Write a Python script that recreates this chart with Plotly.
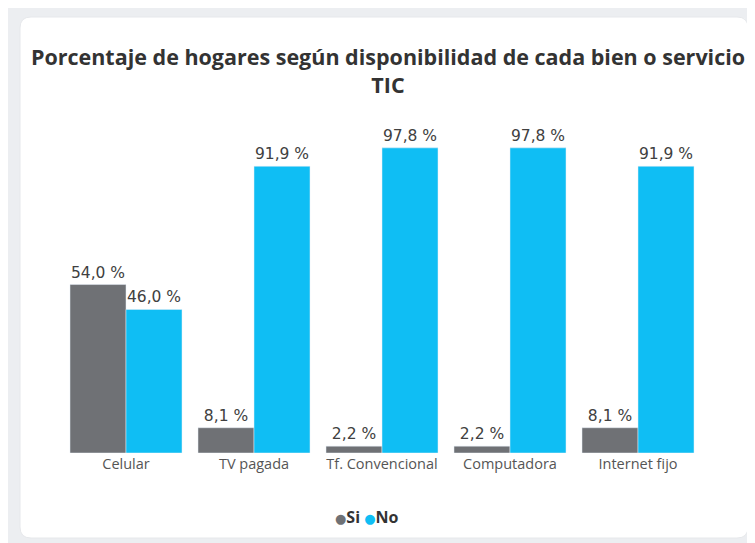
import plotly.graph_objects as go

categories = ["Celular", "TV pagada", "Tf. Convencional", "Computadora", "Internet fijo"]
si_values = [54.0, 8.1, 2.2, 2.2, 8.1]
no_values = [46.0, 91.9, 97.8, 97.8, 91.9]
series_names = ["Si", "No"]
colors = ["#6f7175", "#0fbef4"]

def fmt(v):
    return f"{v:.1f}".replace(".", ",") + " %"

fig = go.Figure()
for name, vals, col in zip(series_names, [si_values, no_values], colors):
    fig.add_trace(go.Bar(
        x=categories, y=vals, name=name, marker_color=col,
        text=[fmt(v) for v in vals], textposition="outside",
        textfont=dict(family="DejaVu Sans", size=15.5, color="#404040"),
        cliponaxis=False, showlegend=False,
    ))

W, H = 755, 543
OFF = 8  # page body margin
L, R, T, B = 62 - OFF, 702 - OFF, 141 - OFF, 453 - OFF
pw, ph = R - L, B - T
def px(x):
    return (x - OFF - L) / pw
def py(y):
    return (B - (y - OFF)) / ph

x0, x1, y0, y1 = px(20), px(748), py(538), py(17)
rx, ry = 11 / pw, 11 / ph
path = (f"M {x0+rx},{y0} L {x1-rx},{y0} Q {x1},{y0} {x1},{y0+ry} "
        f"L {x1},{y1-ry} Q {x1},{y1} {x1-rx},{y1} L {x0+rx},{y1} "
        f"Q {x0},{y1} {x0},{y1-ry} L {x0},{y0+ry} Q {x0},{y0} {x0+rx},{y0} Z")

dot = "<span style='font-family:DejaVu Sans;font-size:13px;color:{c}'>●</span>"
legend_text = (dot.format(c=colors[0]) + f"<b>{series_names[0]}</b> "
               + dot.format(c=colors[1]) + f"<b>{series_names[1]}</b>")

fig.update_layout(
    width=W, height=H,
    margin=dict(l=L, r=W - R, t=T, b=H - B),
    paper_bgcolor="#eceef1", plot_bgcolor="rgba(0,0,0,0)",
    barmode="group", bargap=0.125, bargroupgap=0,
    showlegend=False,
    title=dict(
        text="<b>Porcentaje de hogares según disponibilidad de cada bien o servicio<br>TIC</b>",
        x=(388 - OFF) / W, xref="container", xanchor="center",
        y=1 - 57 / H, yanchor="top",
        font=dict(family="Open Sans", size=21.5, color="#333333"),
    ),
    xaxis=dict(showgrid=False, zeroline=False, showline=False, ticks="",
               tickfont=dict(family="Open Sans", size=14.5, color="#555555")),
    yaxis=dict(range=[0, 100], visible=False),
    annotations=[dict(text=legend_text, xref="paper", yref="paper",
                      x=px(367), y=py(517), xanchor="center", yanchor="middle",
                      showarrow=False,
                      font=dict(family="Open Sans", size=16, color="#333333"))],
    shapes=[dict(type="path", xref="paper", yref="paper", path=path,
                 fillcolor="white", line=dict(color="#e6e8eb", width=1), layer="below")],
)

fig.write_html("out.html")
